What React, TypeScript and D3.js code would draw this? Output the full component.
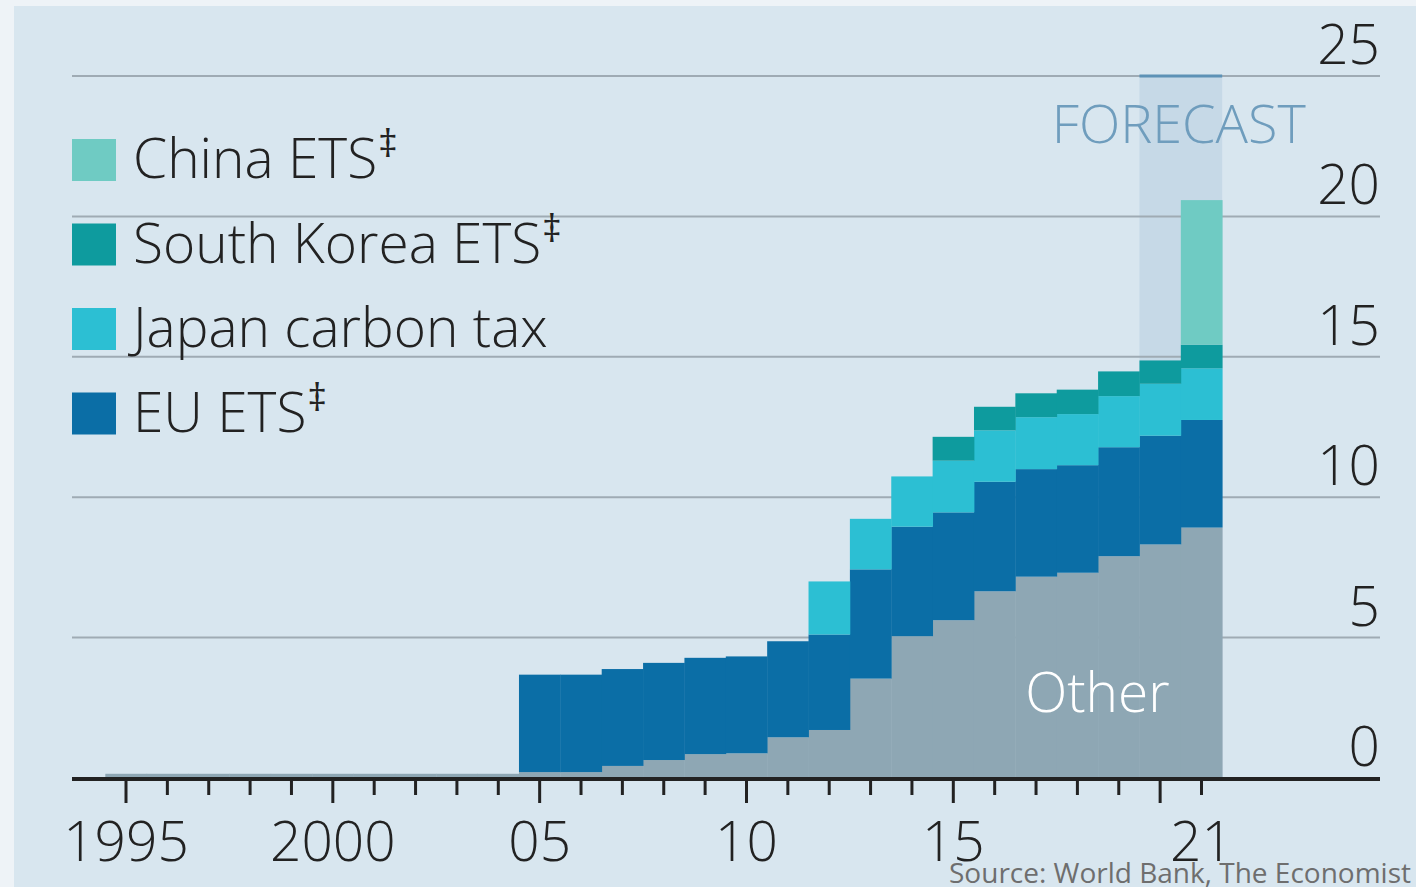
import React from "react";
import * as d3 from "d3";

// Carbon-pricing revenues by scheme, stacked per year
const years = [
  1995, 1996, 1997, 1998, 1999, 2000, 2001, 2002, 2003, 2004, 2005, 2006, 2007, 2008,
  2009, 2010, 2011, 2012, 2013, 2014, 2015, 2016, 2017, 2018, 2019, 2020, 2021,
];
const other = [
  0.15, 0.15, 0.15, 0.15, 0.15, 0.15, 0.15, 0.15, 0.15, 0.15, 0.21, 0.21, 0.43, 0.64,
  0.85, 0.88, 1.45, 1.71, 3.54, 5.05, 5.62, 6.65, 7.17, 7.31, 7.9, 8.32, 8.92,
];
const euEts = [
  0, 0, 0, 0, 0, 0, 0, 0, 0, 0, 3.47, 3.47, 3.45, 3.46, 3.43, 3.45, 3.42, 3.4, 3.89, 3.9,
  3.84, 3.9, 3.83, 3.83, 3.88, 3.87, 3.83,
];
const japanTax = [
  0, 0, 0, 0, 0, 0, 0, 0, 0, 0, 0, 0, 0, 0, 0, 0, 0, 1.89, 1.8, 1.79, 1.84, 1.83, 1.85,
  1.82, 1.82, 1.85, 1.84,
];
const southKoreaEts = [
  0, 0, 0, 0, 0, 0, 0, 0, 0, 0, 0, 0, 0, 0, 0, 0, 0, 0, 0, 0, 0.85, 0.84, 0.85, 0.87,
  0.88, 0.83, 0.84,
];
const chinaEts = [
  0, 0, 0, 0, 0, 0, 0, 0, 0, 0, 0, 0, 0, 0, 0, 0, 0, 0, 0, 0, 0, 0, 0, 0, 0, 0, 5.15,
];

const seriesKeys = ["other", "eu", "japan", "korea", "china"];
const seriesColors: Record<string, string> = {
  other: "#8ea7b4",
  eu: "#0b6ea6",
  japan: "#2cbfd3",
  korea: "#0e9b9e",
  china: "#6fcbc3",
};
const legendItems = [
  { key: "china", label: "China ETS", mark: "‡" },
  { key: "korea", label: "South Korea ETS", mark: "‡" },
  { key: "japan", label: "Japan carbon tax", mark: "" },
  { key: "eu", label: "EU ETS", mark: "‡" },
];
const yTicks = [0, 5, 10, 15, 20, 25];
const xLabels: [number, string][] = [
  [1995, "1995"],
  [2000, "2000"],
  [2005, "05"],
  [2010, "10"],
  [2015, "15"],
  [2021, "21"],
];
const forecastYears = [2020, 2021];

const W = 1416;
const H = 887;
const FONT = "'Open Sans', 'Noto Sans', sans-serif";

export default function App() {
  const rows = years.map((year, i) => ({
    year,
    other: other[i],
    eu: euEts[i],
    japan: japanTax[i],
    korea: southKoreaEts[i],
    china: chinaEts[i],
  }));
  const stacked = d3.stack<any>().keys(seriesKeys)(rows);

  const x = d3.scaleLinear().domain([1995, 2021]).range([126, 1201.5]);
  const y = d3.scaleLinear().domain([0, 25]).range([778, 76]);
  const bw = x(1996) - x(1995);

  const gridLeft = 72;
  const gridRight = 1380;
  const fx0 = x(forecastYears[0]) - bw / 2;
  const fx1 = x(forecastYears[1]) + bw / 2;

  return (
    <svg
      width={W}
      height={H}
      style={{ position: "absolute", left: 0, top: 0, display: "block" }}
      fontFamily={FONT}
      fontWeight={300}
    >
      <rect x={0} y={0} width={W} height={H} fill="#eef3f7" />
      <rect x={14} y={6} width={W - 14} height={H - 6} fill="#d8e6ef" />

      {/* forecast band */}
      <rect x={fx0} y={y(25)} width={fx1 - fx0} height={y(0) - y(25)} fill="#c6d9e7" />

      {/* gridlines */}
      {yTicks.map((t) =>
        t === 0 ? null : (
          <line
            key={t}
            x1={gridLeft}
            x2={gridRight}
            y1={y(t)}
            y2={y(t)}
            stroke="#9fabb4"
            strokeWidth={2}
          />
        )
      )}
      <line x1={fx0} x2={fx1} y1={y(25)} y2={y(25)} stroke="#5d92b6" strokeWidth={3} />

      {/* stacked bars */}
      {stacked.map((layer) => (
        <g key={layer.key} fill={seriesColors[layer.key]}>
          {layer.map((d, i) =>
            d[1] - d[0] > 0 ? (
              <rect
                key={i}
                x={x(years[i]) - bw / 2}
                width={bw + 0.4}
                y={y(d[1])}
                height={y(d[0]) - y(d[1])}
              />
            ) : null
          )}
        </g>
      ))}

      {/* y labels */}
      {yTicks.map((t) => (
        <text
          key={t}
          x={gridRight}
          y={y(t) - 12}
          textAnchor="end"
          fontSize={55}
          fill="#222"
        >
          {t}
        </text>
      ))}

      <text
        x={(fx0 + fx1) / 2 - 2}
        y={143}
        textAnchor="middle"
        fontSize={54}
        fill="#6f9dbd"
      >
        FORECAST
      </text>

      <text
        x={x(2018) + 20}
        y={712}
        textAnchor="middle"
        fontSize={55}
        fill="#ffffff"
      >
        Other
      </text>

      {/* x axis */}
      <line x1={gridLeft} x2={gridRight} y1={779} y2={779} stroke="#222" strokeWidth={4} />
      {years.map((yr) => (
        <line
          key={yr}
          x1={x(yr)}
          x2={x(yr)}
          y1={779}
          y2={yr % 5 === 0 ? 803 : 795}
          stroke="#222"
          strokeWidth={3}
        />
      ))}
      {xLabels.map(([yr, lab]) => (
        <text key={yr} x={x(yr)} y={861} textAnchor="middle" fontSize={55} fill="#222">
          {lab}
        </text>
      ))}

      {/* legend */}
      {legendItems.map((it, i) => (
        <g key={it.key} transform={`translate(0, ${139 + i * 84.5})`}>
          <rect x={72} y={0} width={44} height={42} fill={seriesColors[it.key]} />
          <text x={133} y={39} fontSize={55} fill="#222">
            {it.label}
            {it.mark ? (
              <tspan fontSize={38} fontWeight={400} dy={-21} dx={1}>
                {it.mark}
              </tspan>
            ) : null}
          </text>
        </g>
      ))}

      <text
        x={1411}
        y={883}
        textAnchor="end"
        fontSize={28}
        fontWeight={400}
        fill="#6e6e6e"
        fontFamily="'Open Sans', sans-serif"
      >
        Source: World Bank, The Economist
      </text>
    </svg>
  );
}
